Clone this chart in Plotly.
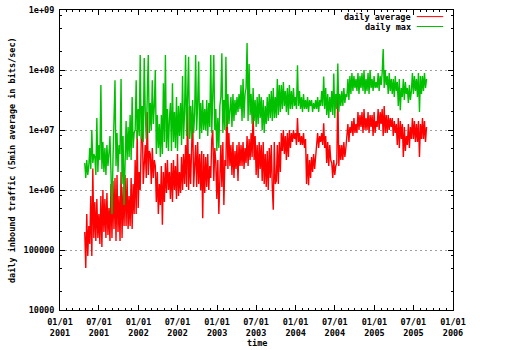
import pandas as pd
import plotly.graph_objects as go

# Traffic samples from late April 2001 to end of August 2005, stored as
# log10(bits/sec) and evenly spaced in time.
start_date = "2001-04-26"
end_date = "2005-08-31"

avg_log10 = [
    5.30, 4.70, 5.60, 4.90, 5.40,
    5.10, 5.90, 4.90, 6.36, 5.20,
    5.80, 5.15, 5.85, 5.20, 5.60,
    5.10, 5.90, 5.05, 6.00, 5.30,
    5.85, 5.20, 5.95, 5.25, 5.70,
    5.15, 6.10, 5.20, 6.15, 5.35,
    6.20, 5.15, 6.25, 5.30, 5.90,
    5.15, 6.30, 5.20, 6.05, 5.40,
    6.25, 5.40, 6.20, 5.35, 5.90,
    5.40, 6.20, 5.35, 6.10, 5.60,
    6.50, 5.60, 7.00, 5.70, 6.30,
    6.00, 6.80, 7.28, 6.10, 6.60,
    6.75, 6.20, 7.30, 6.25, 6.65,
    6.60, 6.10, 6.70, 6.20, 6.50,
    6.40, 5.80, 6.30, 5.60, 6.10,
    5.75, 6.40, 5.42, 6.30, 5.80,
    6.45, 5.95, 6.50, 6.00, 6.30,
    5.85, 6.45, 5.80, 6.50, 6.00,
    6.40, 5.85, 6.60, 5.90, 6.30,
    5.95, 6.55, 6.00, 6.60, 6.10,
    6.75, 6.05, 7.39, 6.00, 6.60,
    6.10, 6.65, 7.28, 6.05, 6.50,
    6.75, 6.05, 6.80, 6.10, 6.60,
    6.00, 6.65, 5.53, 6.60, 5.95,
    6.55, 6.05, 6.60, 6.00, 6.40,
    6.20, 6.85, 7.00, 6.15, 6.70,
    6.45, 5.85, 6.50, 5.60, 6.30,
    6.75, 6.05, 6.80, 5.75, 6.50,
    6.40, 7.56, 6.35, 6.95, 6.40,
    6.75, 6.25, 6.80, 6.20, 6.65,
    6.35, 6.75, 6.15, 6.80, 6.40,
    6.75, 6.40, 6.80, 6.35, 6.70,
    6.45, 6.90, 6.40, 6.85, 6.50,
    6.95, 6.55, 7.33, 6.50, 6.90,
    6.25, 6.75, 6.20, 6.80, 6.35,
    6.75, 6.15, 6.80, 6.10, 6.60,
    6.05, 6.65, 6.00, 6.70, 6.20,
    6.75, 6.05, 5.67, 6.80, 6.10,
    6.15, 6.75, 6.10, 6.80, 6.30,
    6.95, 6.65, 7.00, 6.60, 6.90,
    6.50, 6.95, 6.55, 7.00, 6.70,
    6.95, 6.80, 7.00, 6.85, 6.95,
    6.75, 7.20, 6.80, 6.95, 6.75,
    6.90, 6.75, 6.95, 6.70, 6.85,
    6.10, 6.60, 6.08, 6.50, 6.20,
    6.55, 6.30, 6.60, 6.35, 6.50,
    6.75, 6.95, 6.70, 6.90, 6.80,
    6.95, 6.75, 7.11, 6.70, 6.90,
    6.45, 6.80, 6.40, 6.75, 6.50,
    6.45, 6.20, 6.50, 6.25, 6.40,
    6.45, 7.67, 6.40, 6.75, 6.50,
    6.75, 6.50, 6.80, 6.55, 6.70,
    6.85, 7.10, 6.80, 7.05, 6.95,
    7.15, 6.90, 7.20, 6.95, 7.10,
    6.95, 7.30, 7.00, 7.25, 7.05,
    7.30, 6.95, 7.35, 7.00, 7.20,
    7.00, 7.30, 6.95, 7.25, 7.05,
    7.25, 6.90, 7.30, 6.95, 7.15,
    7.05, 7.35, 7.00, 7.30, 7.10,
    7.35, 6.90, 7.40, 6.95, 7.25,
    6.95, 7.25, 7.00, 7.20, 7.05,
    7.20, 6.90, 7.15, 6.95, 7.10,
    6.75, 7.20, 6.70, 7.15, 6.85,
    7.10, 6.55, 7.05, 6.65, 6.90,
    6.75, 7.10, 6.70, 7.05, 6.85,
    7.20, 6.85, 7.15, 6.80, 7.10,
    6.80, 7.15, 6.55, 7.10, 6.85,
    7.20, 6.85, 7.15, 6.80, 7.05,
]

max_log10 = [
    6.45, 6.20, 6.50, 6.25, 6.40,
    6.70, 6.35, 7.00, 6.45, 6.60,
    6.55, 6.25, 7.20, 6.30, 6.75,
    6.50, 7.75, 6.35, 6.80, 6.30,
    6.70, 6.25, 6.75, 6.40, 6.60,
    6.90, 6.30, 5.60, 6.50, 7.00,
    7.83, 6.40, 6.95, 6.30, 6.75,
    6.60, 7.85, 6.10, 6.90, 5.75,
    6.60, 7.15, 6.50, 7.05, 6.55,
    7.25, 6.50, 7.55, 6.70, 6.95,
    7.00, 7.83, 6.85, 7.35, 6.90,
    8.25, 6.85, 7.40, 6.80, 8.20,
    7.30, 6.85, 7.55, 8.25, 6.95,
    7.45, 7.00, 7.83, 7.10, 7.40,
    8.00, 6.60, 7.25, 6.70, 7.10,
    6.55, 7.25, 6.60, 7.78, 6.80,
    8.25, 6.70, 7.35, 6.65, 7.20,
    7.45, 6.65, 7.78, 6.80, 7.30,
    6.70, 7.55, 6.65, 7.40, 6.90,
    7.45, 6.75, 7.90, 6.85, 7.30,
    8.25, 6.90, 7.55, 8.22, 6.85,
    7.40, 6.85, 7.50, 6.95, 7.25,
    8.25, 7.00, 7.45, 8.14, 6.85,
    7.45, 6.95, 7.50, 7.00, 7.35,
    7.00, 7.50, 6.90, 7.45, 7.05,
    8.25, 6.95, 7.45, 8.25, 7.00,
    7.35, 6.65, 7.20, 6.70, 7.40,
    7.55, 8.28, 6.95, 7.50, 7.00,
    8.22, 7.05, 7.60, 7.10, 7.45,
    7.55, 7.05, 7.60, 7.15, 7.50,
    7.25, 7.55, 7.30, 7.60, 7.35,
    7.75, 7.15, 7.85, 7.20, 7.60,
    7.70, 8.45, 7.15, 8.10, 7.25,
    7.60, 7.10, 7.70, 7.15, 7.50,
    7.05, 7.55, 7.10, 7.60, 7.20,
    7.55, 7.00, 7.50, 6.95, 7.40,
    7.10, 7.55, 7.15, 7.60, 7.20,
    7.65, 7.15, 7.70, 7.20, 7.55,
    7.20, 7.85, 7.25, 7.75, 7.30,
    7.75, 7.35, 7.80, 7.40, 7.65,
    7.30, 7.70, 7.25, 7.75, 7.35,
    7.65, 7.35, 7.70, 7.40, 7.55,
    7.35, 8.08, 7.40, 7.65, 7.35,
    7.55, 7.30, 7.60, 7.35, 7.50,
    7.35, 7.55, 7.30, 7.50, 7.40,
    7.50, 7.30, 7.45, 7.35, 7.50,
    7.35, 7.55, 7.30, 7.50, 7.40,
    7.65, 7.40, 7.89, 7.35, 7.70,
    7.25, 7.60, 7.20, 7.55, 7.30,
    7.65, 7.25, 7.94, 7.20, 7.60,
    7.35, 8.11, 7.30, 7.60, 7.40,
    7.65, 7.40, 7.70, 7.45, 7.60,
    7.55, 7.85, 7.50, 7.90, 7.60,
    7.95, 7.65, 7.90, 7.70, 7.85,
    7.65, 7.95, 7.60, 7.90, 7.70,
    7.95, 7.65, 8.00, 7.60, 7.85,
    7.65, 7.95, 7.60, 8.00, 7.70,
    7.85, 7.65, 7.90, 7.70, 7.80,
    7.70, 7.95, 7.65, 7.90, 7.75,
    7.95, 8.35, 7.70, 8.00, 7.75,
    7.90, 7.60, 7.95, 7.65, 7.85,
    7.60, 7.85, 7.55, 7.90, 7.65,
    7.80, 7.40, 7.85, 7.33, 7.70,
    7.55, 7.85, 7.50, 7.80, 7.60,
    7.70, 7.45, 7.75, 7.50, 7.65,
    7.95, 7.60, 7.90, 7.65, 7.85,
    7.55, 7.95, 7.30, 7.90, 7.60,
    7.90, 7.65, 7.95, 7.70, 7.85,
]

x_tick_dates = [
    "2001-01-01", "2001-07-01", "2002-01-01", "2002-07-01", "2003-01-01",
    "2003-07-01", "2004-01-01", "2004-07-01", "2005-01-01", "2005-07-01",
    "2006-01-01",
]
x_tick_labels = [
    "01/01<br>2001", "07/01<br>2001", "01/01<br>2002", "07/01<br>2002",
    "01/01<br>2003", "07/01<br>2003", "01/01<br>2004", "07/01<br>2004",
    "01/01<br>2005", "07/01<br>2005", "01/01<br>2006",
]
y_tick_vals = [1e4, 1e5, 1e6, 1e7, 1e8, 1e9]
y_tick_labels = ["10000", "100000", "1e+06", "1e+07", "1e+08", "1e+09"]
y_minor_vals = [m * 10 ** e for e in range(4, 9) for m in (2, 5, 8)]

series_names = ["daily average", "daily max"]
series_colors = ["rgb(255,0,0)", "rgb(0,192,0)"]

dates = pd.date_range(start_date, end_date, periods=len(avg_log10))
avg_bps = [10 ** v for v in avg_log10]
max_bps = [10 ** v for v in max_log10]

FONT = dict(family="DejaVu Sans Mono", size=8.5, color="black", weight="bold")

fig = go.Figure()
for name, ys, color in zip(series_names, [avg_bps, max_bps], series_colors):
    fig.add_trace(go.Scatter(
        x=dates, y=ys, mode="lines", name=name,
        line=dict(color=color, width=1.4), showlegend=False,
    ))

# gnuplot-style key: right-aligned text followed by a line sample
key_y = [0.978, 0.945]
for name, color, ky in zip(series_names, series_colors, key_y):
    fig.add_annotation(
        text=name, xref="paper", yref="paper", x=0.897, y=ky,
        xanchor="right", yanchor="middle", showarrow=False, font=FONT,
    )
    fig.add_shape(
        type="line", xref="paper", yref="paper", x0=0.908, x1=0.975,
        y0=ky, y1=ky, line=dict(color=color, width=1), layer="above",
    )

fig.add_annotation(
    text="daily inbound traffic (5min average in bits/sec)",
    xref="paper", yref="paper", x=0, y=0.5, xshift=-48,
    xanchor="center", yanchor="middle", textangle=-90,
    showarrow=False, font=FONT,
)
fig.add_annotation(
    text="time", xref="paper", yref="paper", x=0.5, y=0, yshift=-33,
    xanchor="center", yanchor="middle", showarrow=False, font=FONT,
)

fig.update_layout(
    width=513, height=350,
    margin=dict(l=60, r=60, t=10, b=40, autoexpand=False),
    paper_bgcolor="white", plot_bgcolor="white",
    font=FONT,
    xaxis=dict(
        type="date", range=["2001-01-01", "2006-01-01"], automargin=False,
        tickmode="array", tickvals=x_tick_dates, ticktext=x_tick_labels,
        ticks="inside", ticklen=5, tickcolor="black", ticklabelstandoff=4,
        showline=True, linecolor="black", linewidth=1, mirror="allticks",
        showgrid=False, zeroline=False,
        minor=dict(ticks="inside", ticklen=2, tickcolor="black",
                   dtick="M1", tick0="2001-01-01", showgrid=False),
    ),
    yaxis=dict(
        type="log", range=[4, 9], automargin=False,
        tickmode="array", tickvals=y_tick_vals, ticktext=y_tick_labels,
        ticks="inside", ticklen=5, tickcolor="black",
        showline=True, linecolor="black", linewidth=1, mirror="allticks",
        showgrid=True, gridcolor="#a0a0a0", griddash="2px,3px", gridwidth=1,
        zeroline=False, ticklabelstandoff=3,
        minor=dict(ticks="inside", ticklen=2, tickcolor="black",
                   tickmode="array", tickvals=y_minor_vals, showgrid=False),
    ),
)

fig.write_html("out.html")
